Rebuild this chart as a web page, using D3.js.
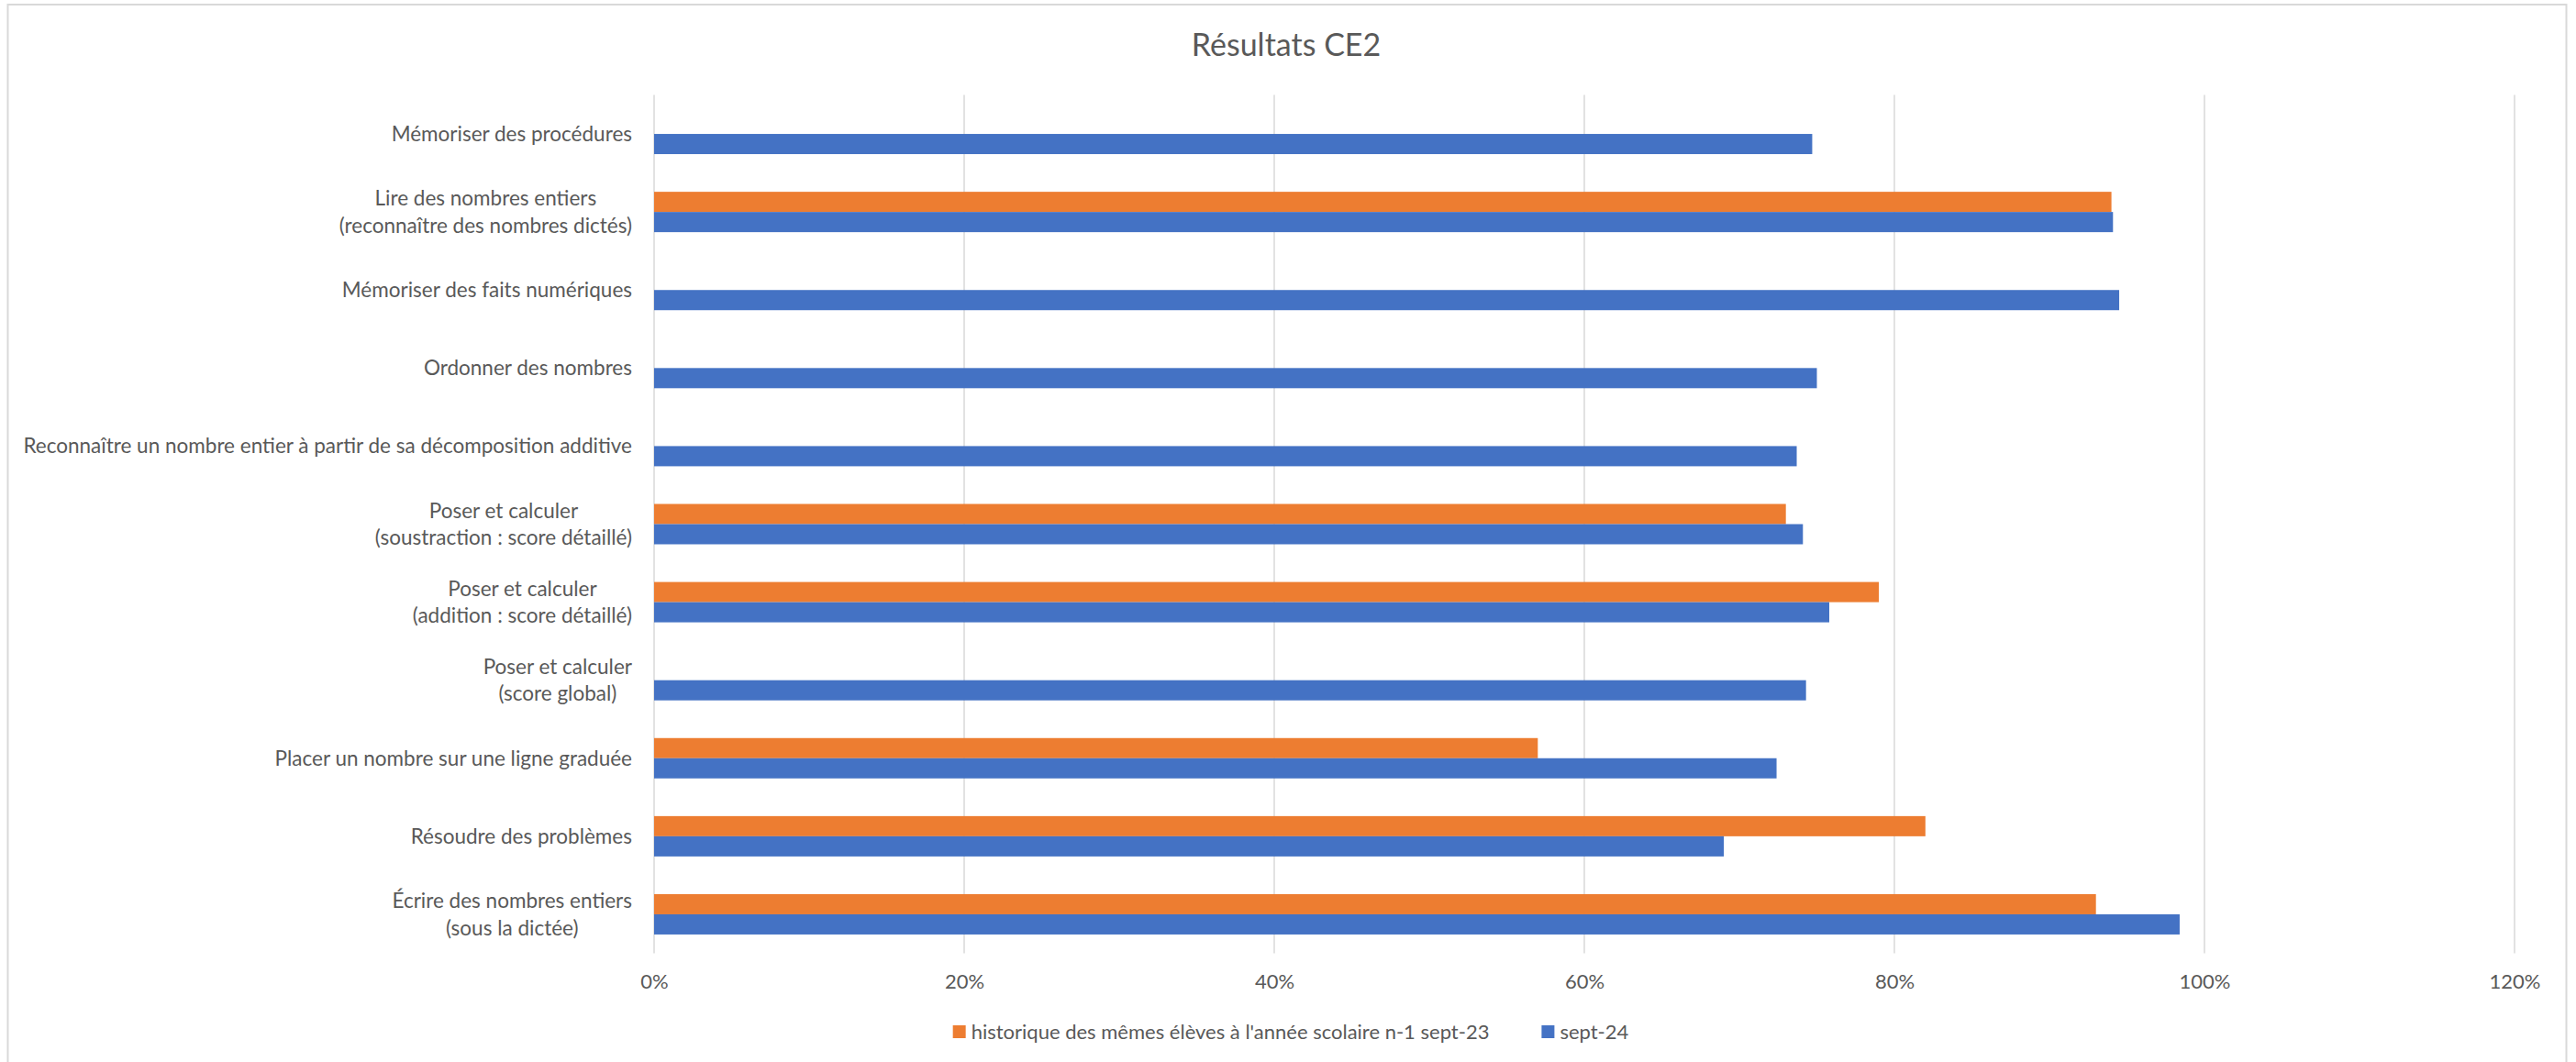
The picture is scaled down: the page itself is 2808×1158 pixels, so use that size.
<!DOCTYPE html>
<html>
<head>
<meta charset="utf-8">
<script src="https://cdn.jsdelivr.net/npm/d3@7"></script>
<style>
  html, body { margin: 0; padding: 0; background: #ffffff; }
  svg { display: block; }
  text { font-family: Lato, "Open Sans", sans-serif; fill: #595959; }
</style>
</head>
<body>
<svg id="chart" width="2808" height="1158"></svg>
<script>
const categories = [
  "Mémoriser des procédures",
  "Lire des nombres entiers\n(reconnaître des nombres dictés)",
  "Mémoriser des faits numériques",
  "Ordonner des nombres",
  "Reconnaître un nombre entier à partir de sa décomposition additive",
  "Poser et calculer\n(soustraction : score détaillé)",
  "Poser et calculer\n(addition : score détaillé)",
  "Poser et calculer\n(score global)",
  "Placer un nombre sur une ligne graduée",
  "Résoudre des problèmes",
  "Écrire des nombres entiers\n(sous la dictée)"
];
const seriesNames = ["historique des mêmes élèves à l'année scolaire n-1 sept-23", "sept-24"];
const sept23 = [null, 0.940, null, null, null, 0.730, 0.790, null, 0.570, 0.820, 0.930];
const sept24 = [0.747, 0.941, 0.945, 0.750, 0.737, 0.741, 0.758, 0.743, 0.724, 0.690, 0.984];
const tickValues = [0, 0.2, 0.4, 0.6, 0.8, 1.0, 1.2];
const colors = ["#ED7D31", "#4472C4"];

const svg = d3.select("#chart");
const W = 2808, H = 1158;
const plot = { left: 713, right: 2741, top: 103.5, bottom: 1039.5 };

// chart border
svg.append("rect")
  .attr("x", 8.5).attr("y", 5).attr("width", 2789).attr("height", H + 10)
  .attr("fill", "none").attr("stroke", "#D9D9D9").attr("stroke-width", 2);

// title
svg.append("text")
  .attr("x", 1402).attr("y", 61)
  .attr("text-anchor", "middle")
  .style("font-size", "34px")
  .text("Résultats CE2");

const x = d3.scaleLinear().domain([0, 1.2]).range([plot.left, plot.right]);
const p = 0.483;
const y = d3.scaleBand().domain(categories).range([plot.top, plot.bottom])
  .paddingInner(p).paddingOuter(p / 2);
const ySub = d3.scaleBand().domain(seriesNames).range([0, y.bandwidth()]);

// gridlines
svg.append("g").selectAll("line").data(tickValues).join("line")
  .attr("x1", d => x(d)).attr("x2", d => x(d))
  .attr("y1", plot.top).attr("y2", plot.bottom)
  .attr("stroke", "#D9D9D9").attr("stroke-width", 1.5);

// bars
const seriesData = [sept23, sept24];
seriesData.forEach((vals, si) => {
  svg.append("g").selectAll("rect")
    .data(categories.map((c, i) => ({ c, v: vals[i] })).filter(d => d.v != null))
    .join("rect")
    .attr("x", x(0))
    .attr("y", d => y(d.c) + ySub(seriesNames[si]))
    .attr("width", d => x(d.v) - x(0))
    .attr("height", ySub.bandwidth())
    .attr("fill", colors[si]);
});

// x axis
const xAxis = d3.axisBottom(x).tickValues(tickValues).tickFormat(d3.format(".0%")).tickSize(0).tickPadding(0);
const gx = svg.append("g").attr("transform", `translate(0, ${plot.bottom})`).call(xAxis);
gx.select(".domain").remove();
gx.selectAll("text")
  .attr("dy", null).attr("y", 38)
  .style("font-family", "Lato, sans-serif").style("font-size", "22px").attr("fill", "#595959");

// category labels
const lineH = 29.5;
const labelRight = 689;
const gl = svg.append("g").style("font-size", "22.5px");
categories.forEach(c => {
  const lines = c.split("\n");
  const cy = y(c) + y.bandwidth() / 2;
  const grp = gl.append("g");
  const texts = lines.map((ln, i) => grp.append("text")
    .attr("y", cy + (i - (lines.length - 1) / 2) * lineH)
    .attr("dy", "0.35em")
    .attr("text-anchor", "middle")
    .text(ln));
  const maxW = d3.max(texts, t => t.node().getComputedTextLength());
  texts.forEach(t => t.attr("x", labelRight - maxW / 2));
});

// legend
const legY = 1125;
const lg = svg.append("g").style("font-size", "22px");
const item1 = lg.append("g");
item1.append("rect").attr("x", 0).attr("y", -7).attr("width", 14).attr("height", 14).attr("fill", colors[0]);
const t1 = item1.append("text").attr("x", 20).attr("dy", "0.35em").text(seriesNames[0]);
const w1 = 20 + t1.node().getComputedTextLength();
const item2 = lg.append("g").attr("transform", `translate(${w1 + 57},0)`);
item2.append("rect").attr("x", 0).attr("y", -7).attr("width", 14).attr("height", 14).attr("fill", colors[1]);
const t2 = item2.append("text").attr("x", 20).attr("dy", "0.35em").text(seriesNames[1]);
const totalW = w1 + 57 + 20 + t2.node().getComputedTextLength();
lg.attr("transform", `translate(${1407 - totalW / 2}, ${legY})`);
</script>
</body>
</html>
